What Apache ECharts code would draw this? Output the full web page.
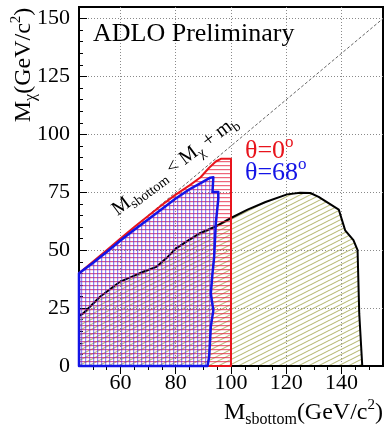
<!DOCTYPE html>
<html>
<head>
<meta charset="utf-8">
<script src="https://cdn.jsdelivr.net/npm/echarts@6/dist/echarts.min.js"></script>
<style>
  html, body { margin: 0; padding: 0; background: #fff; }
  #chart { width: 385px; height: 429px; }
</style>
</head>
<body>
<div id="chart"></div>
<script>
// excluded region (black outline, olive hatch)
const excludedX = [45, 46.5, 52.6, 59.7, 64, 68, 73, 77, 80, 85, 88.5, 94, 100, 106, 112.5, 120.3, 125, 128.7, 131.7, 135, 139, 141.3, 144.3, 145.8, 146.4, 147.5, 45];
const excludedY = [21.5, 22.7, 29.9, 36.3, 38.5, 40.6, 42.8, 47, 50.7, 54.6, 57.2, 60, 63.9, 67.5, 70.8, 74.1, 74.8, 74.7, 73, 70.5, 67.5, 58.6, 54.3, 50, 22.7, 0, 0];

// theta = 0 deg (red)
const theta0X = [45, 50, 55, 60, 65, 70, 75, 80, 85, 89, 92, 94.5, 96.5, 100, 100, 45];
const theta0Y = [40, 45, 50, 55, 60, 64.8, 69.5, 74, 78, 81.5, 85.5, 88.3, 89.5, 89.5, 0, 0];

// theta = 68 deg (blue)
const theta68X = [45, 50, 55, 60, 65, 70, 75, 80, 85, 89.5, 92.5, 93.6, 93.3, 95.4, 95.4, 94.5, 93.9, 93.3, 92.7, 93.6, 92.7, 92.1, 91.5, 45];
const theta68Y = [40, 44.5, 49.2, 54.2, 58.8, 63.3, 67.8, 72.3, 76.3, 79.3, 81.3, 81.5, 75.1, 75.1, 72.2, 61.5, 47, 40, 31.3, 24, 17, 4, 0, 0];

// kinematic limit M_sbottom = M_chi + m_b
const limitX = [45, 155];
const limitY = [40, 150];

// ticks
const xTickLabels = [60, 80, 100, 120, 140];
const xMinorTicks = [50, 55, 60, 65, 70, 75, 80, 85, 90, 95, 100, 105, 110, 115, 120, 125, 130, 135, 140, 145, 150];
const yTickLabels = [0, 25, 50, 75, 100, 125, 150];
const yMinorTicks = [5, 10, 15, 20, 25, 30, 35, 40, 45, 50, 55, 60, 65, 70, 75, 80, 85, 90, 95, 100, 105, 110, 115, 120, 125, 130, 135, 140, 145, 150];

const SERIF = "'Liberation Serif', 'DejaVu Serif', serif";

// hatch fills
function makePattern(w, h, draw) {
  const c = document.createElement("canvas");
  c.width = w;
  c.height = h;
  draw(c.getContext("2d"));
  return { image: c, repeat: "repeat" };
}

const oliveHatch = makePattern(10, 5, (ctx) => {
  ctx.strokeStyle = "#b8ba76";
  ctx.lineWidth = 1.1;
  for (let k = -1; k <= 1; k++) {
    ctx.beginPath();
    ctx.moveTo(0, 5 + 5 * k);
    ctx.lineTo(10, 5 * k);
    ctx.stroke();
  }
});

// horizontal red lines, soft edge
const redHatch = makePattern(4, 4, (ctx) => {
  ctx.fillStyle = "rgba(228,30,60,0.68)";
  ctx.fillRect(0, 1, 4, 1);
  ctx.fillStyle = "rgba(228,30,60,0.15)";
  ctx.fillRect(0, 2, 4, 1);
});

// vertical blue lines plus a light horizontal tint
const blueHatch = makePattern(4, 4, (ctx) => {
  ctx.fillStyle = "rgba(70,50,240,0.6)";
  ctx.fillRect(1, 0, 1, 4);
  ctx.fillStyle = "rgba(70,50,240,0.15)";
  ctx.fillRect(2, 0, 1, 4);
  ctx.fillStyle = "rgba(130,50,210,0.2)";
  ctx.fillRect(0, 1, 4, 1);
});

function regionSeries(xs, ys, fill, stroke, width, z) {
  return {
    type: "custom",
    z: z,
    silent: true,
    clip: false,
    data: [[xs[0], ys[0]]],
    encode: { x: 0, y: 1 },
    renderItem(params, api) {
      const pts = xs.map((x, i) => api.coord([x, ys[i]]));
      return {
        type: "polygon",
        shape: { points: pts },
        style: { fill: fill, stroke: stroke, lineWidth: width, lineJoin: "round" },
      };
    },
  };
}

const chart = echarts.init(document.getElementById("chart"), null, { renderer: "canvas" });

const labelStyle = { fontFamily: SERIF, fontSize: 22, color: "#000" };
const dotted = { color: "#8a8a8a", width: 1, type: [1, 2] };

const subM = {
  a: { fontFamily: SERIF, fontSize: 24, fill: "#000" },
  sub: { fontFamily: SERIF, fontSize: 16, fill: "#000", padding: [14, 0, 0, 0] },
  sup: { fontFamily: SERIF, fontSize: 15, fill: "#000", padding: [0, 0, 16, 0] },
};

const option = {
  animation: false,
  backgroundColor: "#fff",
  grid: {
    left: 79,
    top: 7,
    right: 2,
    bottom: 63,
    show: true,
    borderColor: "#000",
    borderWidth: 2,
  },
  xAxis: [
    {
      type: "value",
      min: 45,
      max: 155,
      position: "bottom",
      axisLine: { lineStyle: { color: "#000", width: 2 } },
      axisTick: { customValues: xMinorTicks, length: 4, lineStyle: { color: "#000" } },
      axisLabel: { customValues: xTickLabels, margin: 6, ...labelStyle },
      splitLine: { show: false },
    },
    {
      type: "value",
      min: 45,
      max: 155,
      position: "bottom",
      axisLine: { show: false },
      axisTick: { customValues: xTickLabels, length: 8, lineStyle: { color: "#000" } },
      axisLabel: { show: false },
      splitLine: { show: true, lineStyle: dotted },
    },
  ],
  yAxis: [
    {
      type: "value",
      min: 0,
      max: 155,
      axisLine: { show: true, lineStyle: { color: "#000", width: 2 } },
      axisTick: { inside: true, customValues: yMinorTicks, length: 4, lineStyle: { color: "#000" } },
      axisLabel: { customValues: yTickLabels, margin: 9, ...labelStyle },
      splitLine: { show: false },
    },
    {
      type: "value",
      min: 0,
      max: 155,
      position: "left",
      axisLine: { show: false },
      axisTick: { inside: true, customValues: yTickLabels, length: 8, lineStyle: { color: "#000" } },
      axisLabel: { show: false },
      splitLine: { show: true, lineStyle: dotted },
    },
  ],
  series: [
    {
      type: "line",
      z: 1,
      silent: true,
      symbol: "none",
      data: limitX.map((x, i) => [x, limitY[i]]),
      lineStyle: { color: "#666", width: 1, type: [3, 2] },
    },
    regionSeries(excludedX, excludedY, oliveHatch, "#000", 2, 2),
    regionSeries(theta0X, theta0Y, redHatch, "#e8141c", 2, 3),
    regionSeries(theta68X, theta68Y, blueHatch, "#1414e6", 2.5, 4),
  ],
  graphic: [
    {
      type: "text",
      x: 93,
      y: 34,
      z: 10,
      style: { text: "ADLO Preliminary", font: "26px " + SERIF, fill: "#000", align: "left", verticalAlign: "middle" },
    },
    {
      type: "text",
      x: 245,
      y: 151,
      z: 10,
      style: {
        text: "{a|θ=0}{sup|o}",
        align: "left",
        verticalAlign: "middle",
        rich: {
          a: { fontFamily: SERIF, fontSize: 26, fill: "#e8141c" },
          sup: { fontFamily: SERIF, fontSize: 17, fill: "#e8141c", padding: [0, 0, 16, 0] },
        },
      },
    },
    {
      type: "text",
      x: 245,
      y: 173,
      z: 10,
      style: {
        text: "{a|θ=68}{sup|o}",
        align: "left",
        verticalAlign: "middle",
        rich: {
          a: { fontFamily: SERIF, fontSize: 26, fill: "#1414e6" },
          sup: { fontFamily: SERIF, fontSize: 17, fill: "#1414e6", padding: [0, 0, 16, 0] },
        },
      },
    },
    {
      type: "text",
      x: 175,
      y: 166,
      z: 10,
      rotation: (37 * Math.PI) / 180,
      style: {
        text: "{a|M}{sub|sbottom}{a| < M}{sub|χ}{a| + m}{sub|b}",
        align: "center",
        verticalAlign: "middle",
        rich: {
          a: { fontFamily: SERIF, fontSize: 20, fill: "#000" },
          sub: { fontFamily: SERIF, fontSize: 14, fill: "#000", padding: [12, 0, 0, 0] },
        },
      },
    },
    {
      // x axis title
      type: "text",
      x: 383,
      y: 413,
      z: 10,
      style: {
        text: "{a|M}{sub|sbottom}{a|(GeV/c}{sup|2}{a|)}",
        align: "right",
        verticalAlign: "middle",
        rich: subM,
      },
    },
    {
      // y axis title
      type: "text",
      x: 24,
      y: 65,
      z: 10,
      rotation: Math.PI / 2,
      style: {
        text: "{a|M}{sub|χ}{a|(GeV/c}{sup|2}{a|)}",
        align: "center",
        verticalAlign: "middle",
        rich: subM,
      },
    },
  ],
};

chart.setOption(option);
</script>
</body>
</html>
